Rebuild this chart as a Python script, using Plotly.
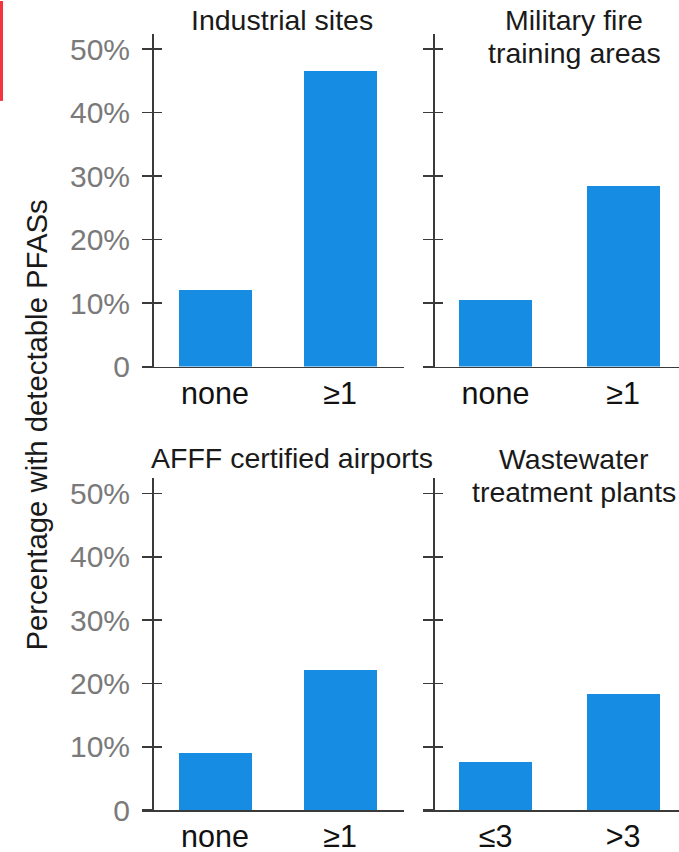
import plotly.graph_objects as go

# ---- data ----
panel_titles = ["Industrial sites", "Military fire<br>training areas",
                "AFFF certified airports", "Wastewater<br>treatment plants"]
cats_tl = ["none", "≥1"]
cats_tr = ["none", "≥1"]
cats_bl = ["none", "≥1"]
cats_br = ["≤3", ">3"]
vals_tl = [12.1, 46.6]
vals_tr = [10.5, 28.5]
vals_bl = [9.0, 22.1]
vals_br = [7.6, 18.3]
ytick_vals = [0, 10, 20, 30, 40, 50]
ytick_text = ["0", "10%", "20%", "30%", "40%", "50%"]

W, H = 679, 852          # target picture size
H_LAYOUT = 868           # the capture compresses the page height slightly
BAR = "#168ce2"
LINE = "#3a3a3a"
FONT = "Liberation Sans, Arial, sans-serif"
TFS = 28.5               # title font size

def px(x):
    return x / W

def py(y):
    return 1 - y / H

panels = [
    dict(cats=cats_tl, vals=vals_tl, xd=[px(142), px(404)], yd=[py(366), py(33)], ypos=px(152),
         xr=[-0.584, 1.512], bw=0.584, labels=True, title=panel_titles[0], tx=282, base=[30]),
    dict(cats=cats_tr, vals=vals_tr, xd=[px(423), 1.0], yd=[py(366), py(33)], ypos=px(433),
         xr=[-0.569, 1.439], bw=0.573, labels=False, title=panel_titles[1], tx=574, base=[30, 63]),
    dict(cats=cats_bl, vals=vals_bl, xd=[px(142), px(404)], yd=[py(810), py(478)], ypos=px(152),
         xr=[-0.584, 1.512], bw=0.584, labels=True, title=panel_titles[2], tx=292, base=[468]),
    dict(cats=cats_br, vals=vals_br, xd=[px(423), 1.0], yd=[py(810), py(478)], ypos=px(433),
         xr=[-0.569, 1.439], bw=0.573, labels=False, title=panel_titles[3], tx=574, base=[469, 502]),
]

fig = go.Figure()
layout = dict(
    width=W, height=H_LAYOUT,
    margin=dict(l=0, r=0, t=0, b=0),
    paper_bgcolor="white", plot_bgcolor="white",
    showlegend=False,
    bargap=0,
    annotations=[],
    shapes=[],
)

YMAX = 52.4
for i, p in enumerate(panels):
    n = i + 1
    xa = "x" if n == 1 else f"x{n}"
    ya = "y" if n == 1 else f"y{n}"
    ya_in = f"y{n + 4}"
    fig.add_trace(go.Bar(
        x=[0, 1], y=p["vals"], width=p["bw"], marker=dict(color=BAR, line=dict(width=0)),
        xaxis=xa, yaxis=ya, hoverinfo="skip"))
    # invisible trace so the overlay axis (inside ticks) is drawn
    fig.add_trace(go.Scatter(x=[None], y=[None], xaxis=xa, yaxis=ya_in,
                             mode="markers", hoverinfo="skip"))
    layout[f"xaxis{'' if n == 1 else n}"] = dict(
        domain=p["xd"], anchor=ya, range=p["xr"],
        tickmode="array", tickvals=[0, 1], ticktext=p["cats"],
        ticks="", showgrid=False, zeroline=False,
        showline=True, linecolor=LINE, linewidth=1.6,
        tickfont=dict(family=FONT, size=30.5, color="#111111"),
        ticklabelstandoff=-1, fixedrange=True,
    )
    layout[f"yaxis{'' if n == 1 else n}"] = dict(
        domain=p["yd"], anchor="free", position=p["ypos"], range=[0, YMAX],
        tickmode="array", tickvals=ytick_vals, ticktext=ytick_text,
        showticklabels=p["labels"],
        ticks="outside", ticklen=10, tickwidth=1.6, tickcolor=LINE,
        showgrid=False, zeroline=False,
        showline=True, linecolor=LINE, linewidth=1.6,
        tickfont=dict(family=FONT, size=30, color="#7a7a7a"),
        ticklabelstandoff=6, fixedrange=True,
    )
    layout[f"yaxis{n + 4}"] = dict(
        overlaying=ya, anchor="free", position=p["ypos"], range=[0, YMAX], side="left",
        tickmode="array", tickvals=ytick_vals, showticklabels=False,
        ticks="inside", ticklen=9, tickwidth=1.6, tickcolor=LINE,
        showgrid=False, zeroline=False, showline=False, fixedrange=True,
    )
    for line_text, b in zip(p["title"].split("<br>"), p["base"]):
        layout["annotations"].append(dict(
            text=line_text, x=px(p["tx"]), y=py(b - TFS * 1.0), xref="paper", yref="paper",
            xanchor="center", yanchor="top", showarrow=False, align="center",
            font=dict(family=FONT, size=TFS, color="#1a1a1a"),
        ))

layout["annotations"].append(dict(
    text="Percentage with detectable PFASs", x=px(37), y=py(425), xref="paper", yref="paper",
    xanchor="center", yanchor="middle", showarrow=False, textangle=-90,
    font=dict(family=FONT, size=29.3, color="#1a1a1a"),
))

# red edge fragment at the top-left of the original image
layout["shapes"].append(dict(
    type="rect", xref="paper", yref="paper", x0=0, x1=px(3), y0=py(100), y1=1,
    fillcolor="#f5333f", line=dict(width=0), layer="above",
))

fig.update_layout(**layout)
post = (
    "var h=document.documentElement,b=document.body;"
    "h.style.margin='0';h.style.padding='0';h.style.overflow='hidden';"
    "b.style.margin='0';b.style.padding='0';b.style.overflow='hidden';"
    "var g=document.querySelector('.plotly-graph-div');"
    "g.style.position='fixed';g.style.left='0px';g.style.top='0px';"
)
fig.write_html(
    "out.html",
    config={"displayModeBar": False, "staticPlot": True},
    post_script=post,
)
